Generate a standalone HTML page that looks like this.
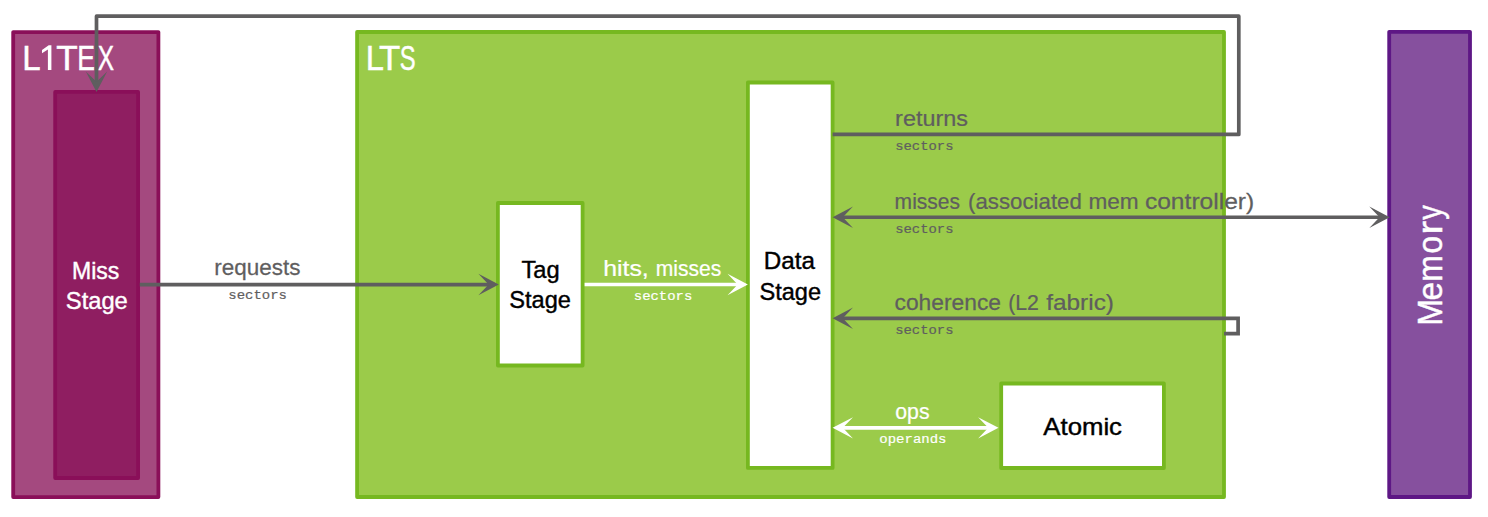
<!DOCTYPE html>
<html><head><meta charset="utf-8">
<style>
html,body{margin:0;padding:0;background:#fff;overflow:hidden;}
svg{display:block;}
text{font-family:"Liberation Sans",sans-serif;}
text.m{font-family:"Liberation Mono",monospace;}
</style></head><body>
<svg width="1488" height="517" viewBox="0 0 1488 517">
<rect width="1488" height="517" fill="#ffffff"/>
<g stroke-width="3.8" stroke-linejoin="round">
<rect x="13.2" y="32.1" width="145.2" height="465" fill="#A4497F" stroke="#8A0F59"/>
<rect x="55.2" y="91.9" width="82.9" height="386.1" fill="#8F1E61" stroke="#8A0F59"/>
<rect x="357.1" y="32" width="866.9" height="465" fill="#9BCB4A" stroke="#76B820"/>
<rect x="497.9" y="203" width="84.7" height="162.5" fill="#fff" stroke="#76B820"/>
<rect x="747.9" y="82.5" width="84.7" height="385.4" fill="#fff" stroke="#76B820"/>
<rect x="1001.2" y="383.5" width="162.7" height="84.5" fill="#fff" stroke="#76B820"/>
<rect x="1389.2" y="31.8" width="80.8" height="465.2" fill="#86509E" stroke="#5E1785"/>
</g>
<text transform="translate(22.18,69.9) scale(0.9677,1)" font-size="34.2" fill="#fff" stroke="#fff" stroke-width="0.45">L</text>
<text transform="translate(56.29,69.9) scale(1.0278,1)" font-size="34.2" fill="#fff" stroke="#fff" stroke-width="0.45">T</text>
<text transform="translate(77.25,69.9) scale(0.7789,1)" font-size="34.2" fill="#fff" stroke="#fff" stroke-width="0.45">E</text>
<text transform="translate(97.64,69.9) scale(0.7136,1)" font-size="34.2" fill="#fff" stroke="#fff" stroke-width="0.45">X</text>
<path d="M51.4,70 V45.3 H48.7 L42.0,49.9 V53.2 L47.9,49.4 V70 Z" fill="#fff"/>
<g stroke="#5F5E5F" stroke-width="3.7" fill="none" stroke-linejoin="miter">
<path stroke-linejoin="round" d="M832.6,134.4 H1238.8 V16.2 H96.5 V85"/>
<path d="M139.8,284.55 H492"/>
<path d="M839.5,217.25 H1383"/>
<path d="M839.5,318.3 H1238.1 V333.7 H1224.1"/>
</g>
<g stroke="#fff" stroke-width="3.7" fill="none">
<path d="M584.6,284.5 H741"/>
<path d="M839.5,427.85 H991.5"/>
</g>
<polygon transform="translate(96.5,91.9) rotate(90)" points="0,0 -20.4,-10.7 -10.2,0 -20.4,10.7" fill="#5F5E5F"/>
<polygon transform="translate(498.8,284.55) rotate(0)" points="0,0 -20.4,-10.7 -10.2,0 -20.4,10.7" fill="#5F5E5F"/>
<polygon transform="translate(832.6,217.25) rotate(180)" points="0,0 -20.4,-10.7 -10.2,0 -20.4,10.7" fill="#5F5E5F"/>
<polygon transform="translate(1389.7,217.25) rotate(0)" points="0,0 -20.4,-10.7 -10.2,0 -20.4,10.7" fill="#5F5E5F"/>
<polygon transform="translate(832.6,318.3) rotate(180)" points="0,0 -20.4,-10.7 -10.2,0 -20.4,10.7" fill="#5F5E5F"/>
<polygon transform="translate(747.9,284.5) rotate(0)" points="0,0 -20.4,-10.7 -10.2,0 -20.4,10.7" fill="#fff"/>
<polygon transform="translate(832.6,427.85) rotate(180)" points="0,0 -20.4,-10.7 -10.2,0 -20.4,10.7" fill="#fff"/>
<polygon transform="translate(998.5,427.85) rotate(0)" points="0,0 -20.4,-10.7 -10.2,0 -20.4,10.7" fill="#fff"/>
<text transform="translate(365.81,69.9) scale(0.9548,1)" font-size="34.2" fill="#fff" stroke="#fff" stroke-width="0.45">L</text>
<text transform="translate(378.89,69.9) scale(1.0177,1)" font-size="34.2" fill="#fff" stroke="#fff" stroke-width="0.45">T</text>
<text transform="translate(399.63,69.9) scale(0.6963,1)" font-size="34.2" fill="#fff" stroke="#fff" stroke-width="0.45">S</text>
<text transform="translate(71.98,278.7) scale(0.9826,1)" font-size="23.5" fill="#fff" stroke="#fff" stroke-width="0.4">Miss</text>
<text transform="translate(65.84,308.7) scale(1.0092,1)" font-size="23.5" fill="#fff" stroke="#fff" stroke-width="0.4">Stage</text>
<text transform="translate(521.45,278.3) scale(1.0097,1)" font-size="23.5" fill="#000" stroke="#000" stroke-width="0.4">Tag</text>
<text transform="translate(509.25,308.3) scale(1.0042,1)" font-size="23.5" fill="#000" stroke="#000" stroke-width="0.4">Stage</text>
<text transform="translate(763.80,269.3) scale(1.0312,1)" font-size="23.5" fill="#000" stroke="#000" stroke-width="0.4">Data</text>
<text transform="translate(759.45,299.5) scale(1.0042,1)" font-size="23.5" fill="#000" stroke="#000" stroke-width="0.4">Stage</text>
<text transform="translate(1043.37,435.0) scale(1.0955,1)" font-size="23.5" fill="#000" stroke="#000" stroke-width="0.4">Atomic</text>
<text transform="translate(214.26,274.5) scale(0.9906,1)" font-size="22.7" fill="#5F5E5F" stroke="#5F5E5F" stroke-width="0.25">requests</text>
<text class="m" transform="translate(228.28,298.9) scale(1.0198,1)" font-size="13.7" fill="#5F5E5F" stroke="#5F5E5F" stroke-width="0.2">sectors</text>
<text transform="translate(603.16,275.9) scale(1.0954,1)" font-size="22.7" fill="#fff" stroke="#fff" stroke-width="0.25">hits,</text>
<text transform="translate(655.81,275.9) scale(0.9285,1)" font-size="22.7" fill="#fff" stroke="#fff" stroke-width="0.25">misses</text>
<text class="m" transform="translate(633.78,299.6) scale(1.0180,1)" font-size="13.7" fill="#fff" stroke="#fff" stroke-width="0.2">sectors</text>
<text transform="translate(895.11,125.5) scale(1.0327,1)" font-size="22.7" fill="#5F5E5F" stroke="#5F5E5F" stroke-width="0.25">returns</text>
<text class="m" transform="translate(895.19,149.6) scale(1.0144,1)" font-size="13.7" fill="#5F5E5F" stroke="#5F5E5F" stroke-width="0.2">sectors</text>
<text transform="translate(894.61,208.5) scale(0.9270,1)" font-size="22.7" fill="#5F5E5F" stroke="#5F5E5F" stroke-width="0.25">misses</text>
<text transform="translate(968.08,208.5) scale(0.9797,1)" font-size="22.7" fill="#5F5E5F" stroke="#5F5E5F" stroke-width="0.25">(associated</text>
<text transform="translate(1088.41,208.5) scale(0.9958,1)" font-size="22.7" fill="#5F5E5F" stroke="#5F5E5F" stroke-width="0.25">mem</text>
<text transform="translate(1144.89,208.5) scale(1.0846,1)" font-size="22.7" fill="#5F5E5F" stroke="#5F5E5F" stroke-width="0.25">controller)</text>
<text class="m" transform="translate(895.19,232.5) scale(1.0144,1)" font-size="13.7" fill="#5F5E5F" stroke="#5F5E5F" stroke-width="0.2">sectors</text>
<text transform="translate(894.55,309.6) scale(1.0043,1)" font-size="22.7" fill="#5F5E5F" stroke="#5F5E5F" stroke-width="0.25">coherence</text>
<text transform="translate(1008.23,309.6) scale(0.9344,1)" font-size="22.7" fill="#5F5E5F" stroke="#5F5E5F" stroke-width="0.25">(L2</text>
<text transform="translate(1046.23,309.6) scale(1.0748,1)" font-size="22.7" fill="#5F5E5F" stroke="#5F5E5F" stroke-width="0.25">fabric)</text>
<text class="m" transform="translate(895.19,333.5) scale(1.0144,1)" font-size="13.7" fill="#5F5E5F" stroke="#5F5E5F" stroke-width="0.2">sectors</text>
<text transform="translate(895.30,418.5) scale(0.9362,1)" font-size="22.7" fill="#fff" stroke="#fff" stroke-width="0.25">ops</text>
<text class="m" transform="translate(879.33,443.2) scale(1.0219,1)" font-size="13.7" fill="#fff" stroke="#fff" stroke-width="0.2">operands</text>
<text transform="translate(1442.2,325.85) rotate(-90) scale(0.9404,1)" font-size="34.2" fill="#fff" stroke="#fff" stroke-width="0.45">M</text>
<text transform="translate(1442.2,300.51) rotate(-90) scale(0.9697,1)" font-size="34.2" fill="#fff" stroke="#fff" stroke-width="0.45">e</text>
<text transform="translate(1442.2,281.86) rotate(-90) scale(0.9306,1)" font-size="34.2" fill="#fff" stroke="#fff" stroke-width="0.45">m</text>
<text transform="translate(1442.2,253.45) rotate(-90) scale(0.9212,1)" font-size="34.2" fill="#fff" stroke="#fff" stroke-width="0.45">o</text>
<text transform="translate(1442.2,234.87) rotate(-90) scale(1.2333,1)" font-size="34.2" fill="#fff" stroke="#fff" stroke-width="0.45">r</text>
<text transform="translate(1442.2,219.69) rotate(-90) scale(0.8514,1)" font-size="34.2" fill="#fff" stroke="#fff" stroke-width="0.45">y</text>
</svg>
</body></html>
